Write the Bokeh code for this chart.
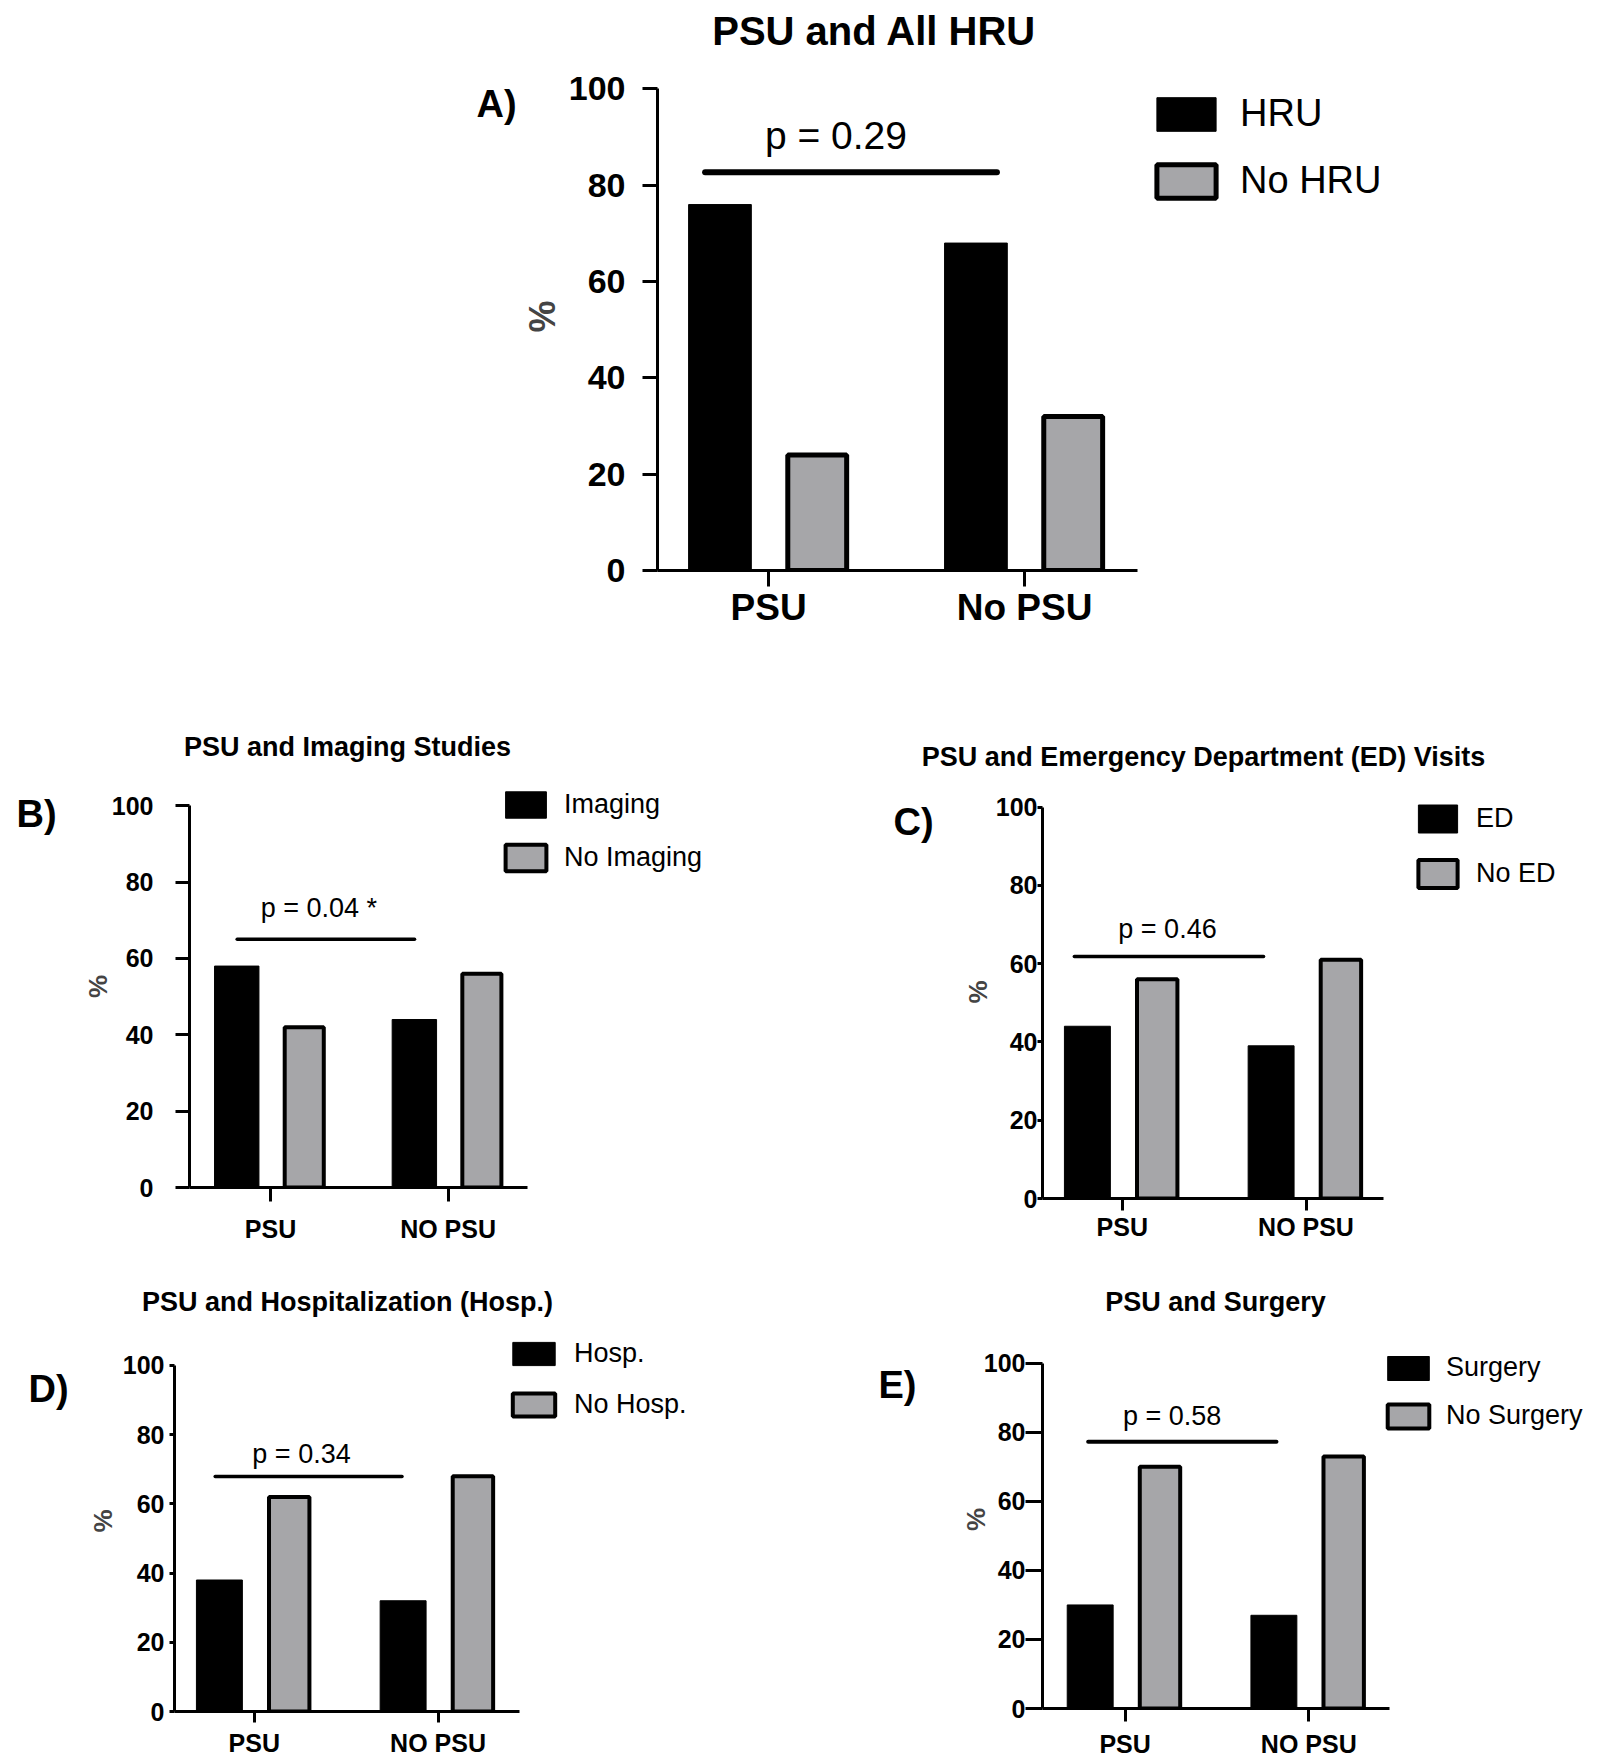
from bokeh.plotting import figure
from bokeh.models import Range1d, FixedTicker, Label, Legend, LegendItem, ColumnDataSource
from bokeh.layouts import column, row
from bokeh.embed import file_html
from bokeh.resources import INLINE

FONT = "Liberation Sans"
BLACK = "#000000"
GRAY = "#a6a6a9"

# ---------------- data ----------------
y_ticks = [0, 20, 40, 60, 80, 100]

a_groups = ["PSU", "No PSU"]
a_series = ["HRU", "No HRU"]
a_yes = [76, 68]
a_no = [24, 32]
a_p = "p = 0.29"
a_title = "PSU and All HRU"

sub_groups = ["PSU", "NO PSU"]

b_series = ["Imaging", "No Imaging"]
b_yes = [58, 44]
b_no = [42, 56]
b_p = "p = 0.04 *"
b_title = "PSU and Imaging Studies"

c_series = ["ED", "No ED"]
c_yes = [44, 39]
c_no = [56, 61]
c_p = "p = 0.46"
c_title = "PSU and Emergency Department (ED) Visits"

d_series = ["Hosp.", "No Hosp."]
d_yes = [38, 32]
d_no = [62, 68]
d_p = "p = 0.34"
d_title = "PSU and Hospitalization (Hosp.)"

e_series = ["Surgery", "No Surgery"]
e_yes = [30, 27]
e_no = [70, 73]
e_p = "p = 0.58"
e_title = "PSU and Surgery"

letters = ["A)", "B)", "C)", "D)", "E)"]


def blank_fig(w, h):
    p = figure(width=w, height=h, x_range=Range1d(0, 1), y_range=Range1d(0, 1),
               x_axis_type=None, y_axis_type=None,
               min_border_left=0, min_border_right=0, min_border_top=0, min_border_bottom=0,
               output_backend="svg", toolbar_location=None, tools="")
    p.outline_line_color = None
    p.grid.visible = False
    return p


def add_text(p, text, pos, size, bold=True):
    p.add_layout(Label(x=pos[0], y=pos[1], x_units="screen", y_units="screen",
                       text=text, text_align="center", text_baseline="middle",
                       text_font=FONT, text_font_style="bold" if bold else "normal",
                       text_font_size=size, text_color=BLACK))


def title_strip(h, items):
    p = blank_fig(1600, h)
    for text, pos, size in items:
        add_text(p, text, pos, size)
    return column(p)


def letter_fig(letter, st):
    p = blank_fig(st["W"], st["H"])
    add_text(p, letter, st["pos"], st["fs"])
    return column(p)


def make_panel(groups, series, yes, no, ptext, st):
    p = figure(width=st["W"], height=st["H"],
               x_range=Range1d(*st["xr"]), y_range=Range1d(0, st["yend"]),
               min_border_left=st["L"], min_border_right=0,
               min_border_top=0, min_border_bottom=st["B"],
               output_backend="svg", toolbar_location=None, tools="")
    p.outline_line_color = None
    p.xgrid.visible = False
    p.ygrid.visible = False

    pos = [i + 0.5 for i in range(len(groups))]
    src = ColumnDataSource(dict(
        x_yes=[x - st["off"] for x in pos],
        x_no=[x + st["off"] for x in pos],
        yes=yes, no=no))
    r1 = p.vbar(x="x_yes", top="yes", bottom=0, width=st["bw"], source=src,
                fill_color=BLACK, line_color=BLACK, line_width=1)
    r2 = p.vbar(x="x_no", top="no", bottom=0, width=st["gw"], source=src,
                fill_color=GRAY, line_color=BLACK, line_width=st["glw"])

    # significance bracket and p-value
    p.segment(x0=[st["pl"][0]], x1=[st["pl"][1]], y0=[st["pl"][2]], y1=[st["pl"][2]],
              line_color=BLACK, line_width=st["plw"], line_cap="round")
    p.add_layout(Label(x=st["ptxt"][0], y=st["ptxt"][1], text=ptext,
                       text_align="center", text_baseline="middle",
                       text_font=FONT, text_font_size=st["pfs"], text_color=BLACK))

    # x axis
    xa = p.xaxis[0]
    xa.bounds = st["xb"]
    xa.ticker = FixedTicker(ticks=pos)
    xa.major_label_overrides = {x: g for x, g in zip(pos, groups)}
    xa.axis_line_width = st["alw"]
    xa.axis_line_color = BLACK
    xa.major_tick_line_width = st["alw"]
    xa.major_tick_out = st["xto"]
    xa.major_tick_in = 0
    xa.minor_tick_out = 0
    xa.minor_tick_in = 0
    xa.major_label_standoff = st["xls"]
    xa.major_label_text_font = FONT
    xa.major_label_text_font_style = "bold"
    xa.major_label_text_font_size = st["xfs"]
    xa.major_label_text_color = BLACK

    # y axis
    ya = p.yaxis[0]
    ya.bounds = (0, 100)
    ya.ticker = FixedTicker(ticks=y_ticks)
    ya.axis_line_width = st["alw"]
    ya.axis_line_color = BLACK
    ya.major_tick_line_width = st["alw"]
    ya.major_tick_out = st["yto"]
    ya.major_tick_in = 0
    ya.minor_tick_out = 0
    ya.minor_tick_in = 0
    ya.major_label_standoff = st["yls"]
    ya.major_label_text_font = FONT
    ya.major_label_text_font_style = "bold"
    ya.major_label_text_font_size = st["yfs"]
    ya.major_label_text_color = BLACK
    ya.axis_label = "%"
    ya.axis_label_text_font = FONT
    ya.axis_label_text_font_style = "bold"
    ya.axis_label_text_font_size = st["pcfs"]
    ya.axis_label_standoff = st["pcs"]

    # legend
    leg = Legend(items=[LegendItem(label=series[0], renderers=[r1]),
                        LegendItem(label=series[1], renderers=[r2])],
                 location=st["legpos"], orientation="vertical",
                 glyph_width=st["gwid"], glyph_height=st["ghei"],
                 label_standoff=st["lstd"], spacing=st["lsp"],
                 padding=0, margin=0,
                 label_text_font=FONT, label_text_font_size=st["lgfs"],
                 label_text_color=BLACK, label_height=20,
                 border_line_alpha=0, background_fill_alpha=0)
    p.add_layout(leg)
    return column(p)


common = dict(off=0.19, bw=0.25, gw=0.22, glw=4, alw=3, plw=3.5,
              xfs="25px", yfs="25px", pcfs="26px", pfs="27px", lgfs="27px")

stA = dict(common, W=1082, H=588, L=139, B=80, xr=(0.066, 3.750), yend=105.5, xb=(0.066, 1.941),
           bw=0.245, gw=0.23, glw=5, plw=6,
           pl=(0.252, 1.392, 82.7), ptxt=(0.763, 90.4), pfs="39px",
           xto=16, xls=0, xfs="37px", yto=15, yls=17, yfs="34px", pcfs="36px", pcs=3,
           legpos=(492, 368), gwid=74, ghei=42, lstd=17, lsp=24, lgfs="38px")

stB = dict(common, W=730, H=473, L=119, B=71, xr=(0.044, 3.484), yend=105.3, xb=(0.044, 1.947),
           pl=(0.3125, 1.311, 65.0), ptxt=(0.7725, 73.1),
           xto=14, xls=13, yto=14, yls=22, pcs=-4,
           legpos=(311, 313), gwid=51, ghei=33, lstd=13, lsp=20)

stC = dict(common, W=660, H=473, L=102, B=60, xr=(0.0656, 3.103), yend=105.5, xb=(0.0656, 1.922),
           pl=(0.239, 1.269, 61.8), ptxt=(0.746, 68.9),
           xto=12, xls=2, yto=5, yls=0, pcs=0,
           legpos=(371, 307), gwid=49, ghei=35, lstd=14, lsp=20)

stD = dict(common, W=722, H=430, L=96, B=49, xr=(0.0656, 3.473), yend=110.1, xb=(0.0656, 1.944),
           pl=(0.287, 1.304, 67.9), ptxt=(0.757, 74.5),
           xto=11, xls=6, yto=5, yls=5, pcs=2,
           legpos=(333, 291), gwid=53, ghei=29, lstd=14, lsp=20)

stE = dict(common, W=675, H=430, L=117, B=51, xr=(0.0504, 3.088), yend=109.5, xb=(0.0504, 1.939),
           pl=(0.299, 1.324, 77.3), ptxt=(0.756, 84.7), plw=4,
           xto=13, xls=8, yto=17, yls=0, pcs=-10,
           legpos=(340, 277), gwid=52, ghei=30, lstd=12, lsp=17)

lA = dict(W=518, H=588, pos=(496, 547), fs="38px")
lB = dict(W=70, H=473, pos=(36, 445), fs="38px")
lC = dict(W=140, H=473, pos=(113, 437), fs="38px")
lD = dict(W=78, H=430, pos=(48, 372), fs="38px")
lE = dict(W=125, H=430, pos=(97, 376), fs="38px")

stripA = title_strip(62, [(a_title, (874, 32), "40px")])
stripBC = title_strip(135, [(b_title, (347, 39), "27px"), (c_title, (1203, 29), "27px")])
stripDE = title_strip(72, [(d_title, (347, 29), "27px"), (e_title, (1215, 29), "27px")])

rowA = row(letter_fig(letters[0], lA),
           make_panel(a_groups, a_series, a_yes, a_no, a_p, stA))
rowBC = row(letter_fig(letters[1], lB),
            make_panel(sub_groups, b_series, b_yes, b_no, b_p, stB),
            letter_fig(letters[2], lC),
            make_panel(sub_groups, c_series, c_yes, c_no, c_p, stC))
rowDE = row(letter_fig(letters[3], lD),
            make_panel(sub_groups, d_series, d_yes, d_no, d_p, stD),
            letter_fig(letters[4], lE),
            make_panel(sub_groups, e_series, e_yes, e_no, e_p, stE))

layout = column(stripA, rowA, stripBC, rowBC, stripDE, rowDE)

open("out.html", "w").write(file_html(layout, INLINE))
